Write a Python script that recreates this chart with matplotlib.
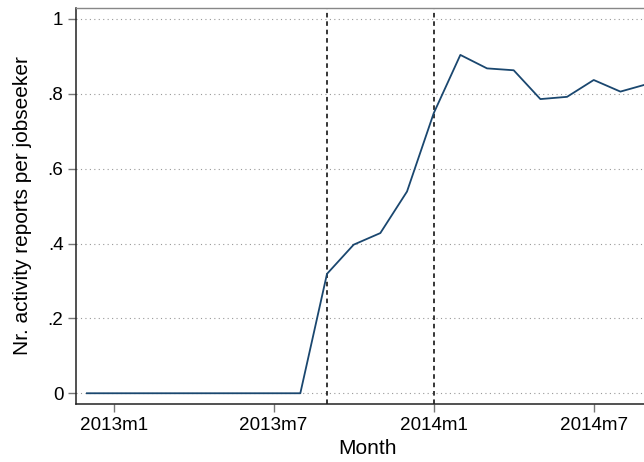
import matplotlib
matplotlib.use("Agg")
import matplotlib.pyplot as plt

# months since 2013m1 (2012m12 = -1)
months = list(range(-1, 21))
values = [0, 0, 0, 0, 0, 0, 0, 0, 0,
          0.319, 0.397, 0.428, 0.539, 0.748, 0.904, 0.868, 0.863,
          0.786, 0.792, 0.837, 0.806, 0.826]
xtick_pos = [0, 6, 12, 18]
xtick_labels = ["2013m1", "2013m7", "2014m1", "2014m7"]
ytick_pos = [0, 0.2, 0.4, 0.6, 0.8, 1.0]
ytick_labels = ["0", ".2", ".4", ".6", ".8", "1"]
vlines = [8, 12]

plt.rcParams['font.family'] = ['Liberation Sans', 'DejaVu Sans']

fig = plt.figure(figsize=(6.44, 4.62), dpi=100)
ax = fig.add_axes([76/644, 1 - 404/462, (658 - 76)/644, (404 - 7.5)/462])

ax.plot(months, values, color='#1a476f', lw=1.3, zorder=3, clip_on=False)
for v in vlines:
    ax.axvline(v, color='black', lw=1.1, ls=(0, (3, 2.5)), zorder=2)

ax.set_xlim(-1.41, 20.41)
ax.set_ylim(-0.0287, 1.0307)
ax.set_xticks(xtick_pos)
ax.set_xticklabels(xtick_labels)
ax.set_yticks(ytick_pos)
ax.set_yticklabels(ytick_labels)
ax.yaxis.grid(True, color='#999999', ls=(0, (1, 3)), lw=0.8)
ax.set_axisbelow(True)
ax.tick_params(axis='both', labelsize=13.6, color='#777777', length=6, width=1, direction='out', pad=3)

for s in ['left', 'bottom']:
    ax.spines[s].set_color('#222222')
    ax.spines[s].set_linewidth(1.1)
ax.spines['top'].set_color('#888888')
ax.spines['top'].set_linewidth(1.0)
ax.spines['right'].set_visible(False)

ax.set_xlabel("Month", fontsize=15, labelpad=4)
ax.set_ylabel("Nr. activity reports per jobseeker", fontsize=15, labelpad=11)

fig.savefig("out.png", dpi=100)
